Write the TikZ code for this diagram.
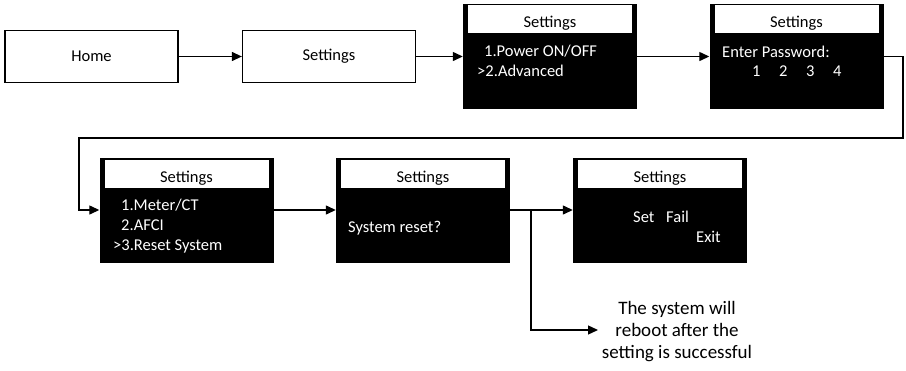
\documentclass[tikz,border=0pt]{standalone}
\usepackage{fontspec}
\setmainfont{Carlito}
\usetikzlibrary{arrows.meta}
\begin{document}
\begin{tikzpicture}[x=1pt,y=-1pt,
  wbox/.style={draw, line width=1.3pt, minimum width=173pt, minimum height=52pt, inner sep=0pt, font=\fontsize{16.5}{19}\selectfont},
  screen/.style={fill=black, minimum width=174pt, minimum height=105pt, inner sep=0pt},
  tbar/.style={fill=white, minimum width=164pt, minimum height=28pt, inner sep=0pt},
  ttl/.style={anchor=base, inner sep=0pt, font=\fontsize{16.5}{19}\selectfont},
  stxt/.style={text=white, anchor=base west, inner sep=0pt, font=\fontsize{16.5}{19}\selectfont},
  note/.style={align=center, inner sep=0pt, font=\fontsize{19}{22}\selectfont},
  conn/.style={line width=1.3pt, -{Triangle[length=10pt,width=9pt]}},
]
\useasboundingbox (0,0) rectangle (906,370);

% top row
\node[wbox] (home) at (91.5,56.5) {Home};
\node[wbox] (set) at (329,56.5) {Settings};

\node[screen] (s1) at (550,56.5) {};
\node[tbar] (t1) at (550,19) {};
\node[ttl] (t1x) at (550,27) {Settings};
\node[stxt] (s1a) at (484,56) {1.Power ON/OFF};
\node[stxt] (s1b) at (477,76) {>2.Advanced};

\node[screen] (s2) at (796.5,56.5) {};
\node[tbar] (t2) at (796.5,19) {};
\node[ttl] (t2x) at (796.5,27) {Settings};
\node[stxt] (s2a) at (722,57) {Enter Password:};
\node[stxt] (s2b) at (752,76) {1};
\node[stxt] (s2c) at (779,76) {2};
\node[stxt] (s2d) at (806,76) {3};
\node[stxt] (s2e) at (833,76) {4};

% bottom row
\node[screen] (s3) at (186.5,210) {};
\node[tbar] (t3) at (186.5,174) {};
\node[ttl] (t3x) at (186.5,182) {Settings};
\node[stxt] (s3a) at (121,210) {1.Meter/CT};
\node[stxt] (s3b) at (121,230) {2.AFCI};
\node[stxt] (s3c) at (113,250) {>3.Reset System};

\node[screen] (s4) at (423,210) {};
\node[tbar] (t4) at (423,174) {};
\node[ttl] (t4x) at (423,182) {Settings};
\node[stxt] (s4a) at (348,232) {System reset?};

\node[screen] (s5) at (660,210) {};
\node[tbar] (t5) at (660,174) {};
\node[ttl] (t5x) at (660,182) {Settings};
\node[stxt] (s5a) at (633,222) {Set};
\node[stxt] (s5b) at (666,222) {Fail};
\node[stxt] (s5c) at (696,242) {Exit};

\node[note] (msg) at (677,332) {The system will\\reboot after the\\setting is successful};

% connectors
\draw[conn] (home.east) -- (set.west);
\draw[conn] (set.east) -- (s1.west);
\draw[conn] (s1.east) -- (s2.west);
\coordinate (c1) at (903,56.5);
\coordinate (c2) at (903,138);
\coordinate (c3) at (79,138);
\draw[conn] (s2.east) -- (c1) -- (c2) -- (c3) |- (s3.west);
\draw[conn] (s3.east) -- (s4.west);
\draw[conn] (s4.east) -- (s5.west);
\coordinate (br) at (531,210);
\coordinate (tip) at (598,330);
\draw[conn] (br) |- (tip);
\end{tikzpicture}
\end{document}
